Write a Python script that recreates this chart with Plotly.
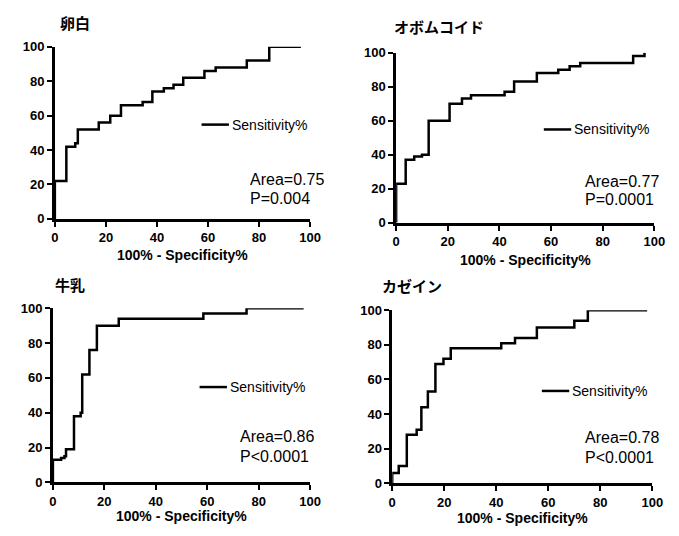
import plotly.graph_objects as go

W, H = 679, 536

# ---- data ----
titles = ["卵白", "オボムコイド", "牛乳", "カゼイン"]
areas = ["Area=0.75", "Area=0.77", "Area=0.86", "Area=0.78"]
pvals = ["P=0.004", "P=0.0001", "P<0.0001", "P<0.0001"]
series_name = "Sensitivity%"
x_title = "100% - Specificity%"
tick_vals = [0, 20, 40, 60, 80, 100]

egg_x = [0, 0, 4.5, 8, 9, 17.2, 21.7, 25.9, 34.4, 38.2, 42.7, 46.5, 50.3, 58.6, 63, 75.2, 84, 96.4]
egg_y = [0, 22, 42, 44, 52, 56, 60, 66, 68, 74, 76, 78, 82, 86, 88, 92, 100, 100]

ovo_x = [0, 0, 3.7, 7, 10, 12.6, 20.7, 25.5, 29, 42, 45.7, 54.5, 62.8, 67.2, 71.3, 91.8, 96.2]
ovo_y = [0, 23, 37, 39, 40, 60, 70, 73, 75, 77, 83, 88, 90, 92, 94, 98, 100]

milk_x = [0, 0, 3.2, 4.5, 5.1, 8.2, 10.8, 11.4, 14.2, 17.1, 25.6, 58.5, 75.3, 97.5]
milk_y = [0, 13, 14, 15, 19, 38, 40, 62, 76, 90, 94, 97, 100, 100]

cas_x = [0, 0, 2.5, 5.6, 9.4, 11.2, 13.7, 16.6, 19.7, 22.5, 41.9, 47.2, 55.6, 70, 75.2, 98]
cas_y = [0, 6, 10, 28, 31, 44, 53, 69, 72, 78, 81, 84, 90, 94, 100, 100]

series = [(egg_x, egg_y), (ovo_x, ovo_y), (milk_x, milk_y), (cas_x, cas_y)]

# ---- layout geometry (pixels) ----
# plot boxes: (left, right, top, bottom)
boxes = [(52, 313, 41, 218), (401, 665, 47, 222), (50, 313, 310, 489), (397, 663, 312, 490)]
title_pos = [(55, 16), (397, 20), (50, 285), (385, 287)]
legend_pos = [(202, 230, 121), (552, 580, 126), (200, 228, 391), (550, 578, 395)]  # line x0,x1,y
area_pos = [(250, 177, 197), (592, 180, 198), (239, 442, 462), (592, 443, 463)]   # left x, area y, p y
xtitle_y = [255, 260, 524, 526]


def px(x):
    return x / W


def py(y):
    return 1 - y / H


fig = go.Figure()
annotations = []
shapes = []
num_font = dict(family="Liberation Sans, Arial, sans-serif", size=13, color="black", weight="bold")

for i, ((sx, sy), (l, r, t, b)) in enumerate(zip(series, boxes)):
    n = "" if i == 0 else str(i + 1)
    fig.add_trace(go.Scatter(
        x=sx, y=sy, mode="lines", line=dict(color="black", width=2.5, shape="hv"),
        name=series_name, showlegend=False, cliponaxis=False,
        xaxis="x" + n, yaxis="y" + n,
    ))
    common = dict(range=[0, 100], tickvals=tick_vals, showgrid=False, zeroline=False,
                  showline=True, linecolor="black", linewidth=2.5, ticks="outside",
                  ticklen=5, tickwidth=2, tickcolor="black", tickfont=num_font)
    fig.update_layout(**{
        "xaxis" + n: dict(domain=[px(l), px(r)], anchor="y" + n, **common),
        "yaxis" + n: dict(domain=[py(b), py(t)], anchor="x" + n, **common),
    })
    # panel title
    tx, ty = title_pos[i]
    annotations.append(dict(x=px(tx), y=py(ty), xref="paper", yref="paper", text="<b>" + titles[i] + "</b>",
                            showarrow=False, xanchor="left", yanchor="middle",
                            font=dict(family="Noto Sans CJK JP", size=15, color="black")))
    # x-axis title
    annotations.append(dict(x=px((l + r) / 2), y=py(xtitle_y[i]), xref="paper", yref="paper",
                            text="<b>" + x_title + "</b>", showarrow=False, xanchor="center", yanchor="middle",
                            font=dict(family="Liberation Sans, Arial, sans-serif", size=14,
                                      color="black")))
    # legend
    lx0, lx1, ly = legend_pos[i]
    shapes.append(dict(type="line", xref="paper", yref="paper", x0=px(lx0), x1=px(lx1),
                       y0=py(ly), y1=py(ly), line=dict(color="black", width=2.5)))
    annotations.append(dict(x=px(lx1 + 1), y=py(ly), xref="paper", yref="paper", text=series_name,
                            showarrow=False, xanchor="left", yanchor="middle",
                            font=dict(family="Liberation Sans, Arial, sans-serif", size=14, color="black")))
    # area / p
    ax, ay, pyy = area_pos[i]
    for txt, yy in ((areas[i], ay), (pvals[i], pyy)):
        annotations.append(dict(x=px(ax), y=py(yy), xref="paper", yref="paper", text=txt,
                                showarrow=False, xanchor="left", yanchor="middle",
                                font=dict(family="Liberation Sans, Arial, sans-serif", size=16,
                                          color="black")))

fig.update_layout(
    width=W, height=H, margin=dict(l=0, r=0, t=0, b=0),
    paper_bgcolor="white", plot_bgcolor="white",
    annotations=annotations, shapes=shapes, showlegend=False,
)

fig.write_html("out.html")
